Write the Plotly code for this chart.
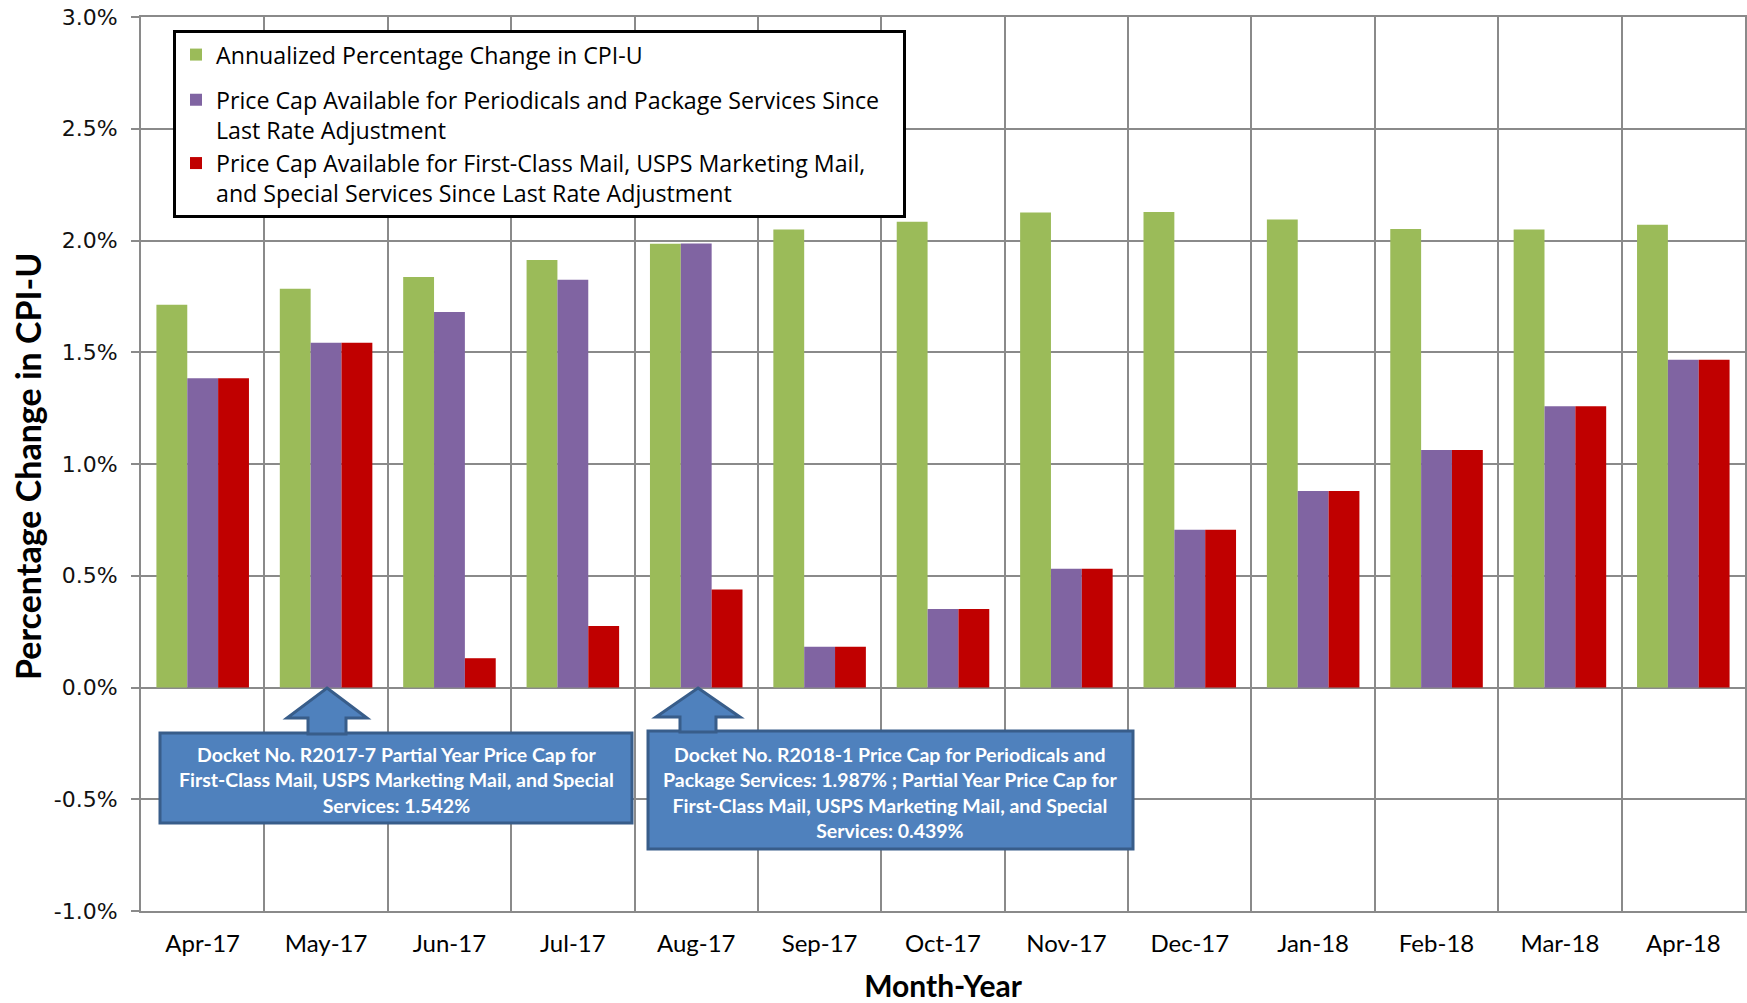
import plotly.graph_objects as go

months = ["Apr-17", "May-17", "Jun-17", "Jul-17", "Aug-17", "Sep-17", "Oct-17",
          "Nov-17", "Dec-17", "Jan-18", "Feb-18", "Mar-18", "Apr-18"]
cpi_change = [1.713, 1.784, 1.837, 1.913, 1.985, 2.049, 2.084, 2.125, 2.128, 2.094, 2.051, 2.049, 2.070]
cap_periodicals = [1.384, 1.542, 1.680, 1.824, 1.987, 0.182, 0.351, 0.531, 0.706, 0.879, 1.063, 1.258, 1.466]
cap_first_class = [1.384, 1.542, 0.131, 0.275, 0.439, 0.182, 0.351, 0.531, 0.706, 0.879, 1.063, 1.258, 1.466]

y_tick_vals = [-1.0, -0.5, 0.0, 0.5, 1.0, 1.5, 2.0, 2.5, 3.0]
y_tick_labels = ["-1.0%", "-0.5%", "0.0%", "0.5%", "1.0%", "1.5%", "2.0%", "2.5%", "3.0%"]

series_names = [
    "Annualized Percentage Change in CPI-U",
    "Price Cap Available for Periodicals and Package Services Since&nbsp;&nbsp;&nbsp;<br>Last Rate Adjustment",
    "Price Cap Available for First-Class Mail, USPS Marketing Mail,<br>and Special Services Since Last Rate Adjustment",
]
legend_groups = ["cpi", "caps", "caps"]
colors = ["#9BBB59", "#8064A2", "#C00000"]

note1 = ("Docket No. R2017-7 Partial Year Price Cap for<br>"
         "First-Class Mail, USPS Marketing Mail, and Special<br>"
         "Services: 1.542%")
note2 = ("Docket No. R2018-1 Price Cap for Periodicals and<br>"
         "Package Services: 1.987% ; Partial Year Price Cap for<br>"
         "First-Class Mail, USPS Marketing Mail, and Special<br>"
         "Services: 0.439%")

W, H = 1747, 1003
L, R, T, B = 141, 2, 17, 92
PW, PH = W - L - R, H - T - B

def px(x):
    return (x - L) / PW

def py(y):
    return (H - B - y) / PH

fig = go.Figure()
for name, vals, c, g in zip(series_names, [cpi_change, cap_periodicals, cap_first_class], colors, legend_groups):
    fig.add_trace(go.Bar(x=months, y=vals, name=name, legendgroup=g,
                         marker=dict(color=c, line=dict(width=0))))

grid = "#8A8A8A"
fig.update_layout(
    width=W, height=H,
    margin=dict(l=L, r=R, t=T, b=B, autoexpand=False),
    plot_bgcolor="white", paper_bgcolor="white",
    barmode="group", bargap=0.25, bargroupgap=0,
    font=dict(family="Lato, sans-serif", color="black"),
    legend=dict(
        x=px(173), y=py(30), xanchor="left", yanchor="top",
        bordercolor="black", borderwidth=3, bgcolor="white",
        font=dict(family="Open Sans, sans-serif", size=23.2, color="black"),
        valign="top", traceorder="grouped", tracegroupgap=12,
    ),
    xaxis=dict(
        type="category", tickson="boundaries", showgrid=True, gridcolor=grid, gridwidth=2,
        showline=True, linecolor=grid, linewidth=2, mirror=True, ticks="",
        tickfont=dict(family="Lato, sans-serif", size=24, color="black"),
        ticklabelstandoff=10,
        title=dict(text="Month-Year", font=dict(family="Lato, sans-serif", size=30, color="black", weight="bold"), standoff=21),
        automargin=False,
    ),
    yaxis=dict(
        range=[-1, 3], tickvals=y_tick_vals, ticktext=y_tick_labels,
        showgrid=True, gridcolor=grid, gridwidth=2, zeroline=False,
        showline=True, linecolor=grid, linewidth=2, mirror=True,
        ticks="outside", ticklen=8, tickcolor=grid, tickwidth=2,
        tickfont=dict(family="DejaVu Sans, sans-serif", size=22, color="#111111"),
        ticklabelstandoff=9,
        automargin=False,
    ),
)

# y-axis title placed precisely
fig.add_annotation(xref="paper", yref="paper", x=px(27), y=py(466), text="Percentage Change in CPI-U",
                   textangle=-90, showarrow=False, xanchor="center", yanchor="middle",
                   font=dict(family="Lato, sans-serif", size=34, color="black", weight="bold"))

box_fill = "#4F81BD"
box_line = "#385D8A"

fig.add_shape(type="rect", xref="paper", yref="paper", x0=px(160), x1=px(632), y0=py(823), y1=py(733),
              fillcolor=box_fill, line=dict(color=box_line, width=3), layer="above")
fig.add_shape(type="rect", xref="paper", yref="paper", x0=px(648), x1=px(1133), y0=py(849), y1=py(731),
              fillcolor=box_fill, line=dict(color=box_line, width=3), layer="above")

def arrow_path(tip_x, tip_y, head_half, shaft_half, head_base_y, bottom_y):
    pts = [(tip_x, tip_y), (tip_x + head_half, head_base_y), (tip_x + shaft_half, head_base_y),
           (tip_x + shaft_half, bottom_y), (tip_x - shaft_half, bottom_y),
           (tip_x - shaft_half, head_base_y), (tip_x - head_half, head_base_y)]
    return "M " + " L ".join(f"{px(a):.5f},{py(b):.5f}" for a, b in pts) + " Z"

fig.add_shape(type="path", xref="paper", yref="paper",
              path=arrow_path(327, 688, 40, 19, 718, 734),
              fillcolor=box_fill, line=dict(color=box_line, width=3), layer="above")
fig.add_shape(type="path", xref="paper", yref="paper",
              path=arrow_path(698, 688, 42, 18, 717, 732),
              fillcolor=box_fill, line=dict(color=box_line, width=3), layer="above")

fig.add_annotation(xref="paper", yref="paper", x=px(396), y=py(780), text=note1,
                   showarrow=False, align="center", xanchor="center", yanchor="middle",
                   font=dict(family="Lato, sans-serif", size=19.5, color="white", weight="bold"))
fig.add_annotation(xref="paper", yref="paper", x=px(890), y=py(792), text=note2,
                   showarrow=False, align="center", xanchor="center", yanchor="middle",
                   font=dict(family="Lato, sans-serif", size=19.5, color="white", weight="bold"))

fig.write_html("out.html", config={"displayModeBar": False},
               post_script="document.body.style.margin='0';")
